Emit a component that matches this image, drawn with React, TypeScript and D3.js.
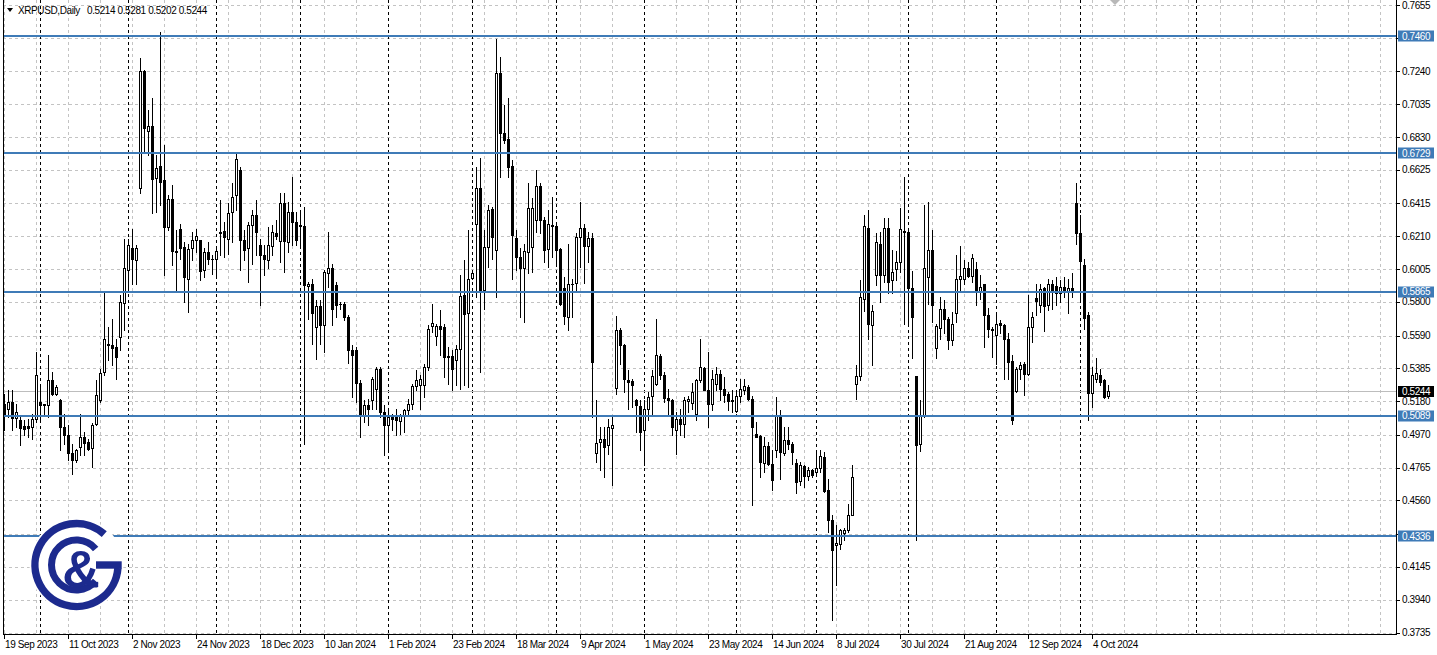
import React, { useEffect } from "react";
import * as d3 from "d3";

const SYMBOL = "XRPUSD";
const PERIOD = "Daily";
const START_DATE = "2023-09-19";
const HOLIDAYS = ["2024-01-01"];

const opens = [
  0.5165,0.5133,0.5175,0.5075,0.5060,0.5023,0.5023,0.5019,0.5071,0.5175,
  0.5156,0.5154,0.5311,0.5227,0.5185,0.5019,0.4971,0.4858,0.4810,0.4894,
  0.4956,0.4925,0.4887,0.5040,0.5185,0.5363,0.5540,0.5534,0.5519,0.5581,
  0.5796,0.5998,0.6134,0.6065,0.6509,0.7242,0.6867,0.6899,0.6575,0.6651,
  0.6561,0.6269,0.6446,0.6117,0.6255,0.6144,0.5946,0.6134,0.6184,0.6186,
  0.5998,0.6113,0.6071,0.6071,0.6228,0.6242,0.6196,0.6363,0.6467,0.6623,
  0.6186,0.6138,0.6280,0.6346,0.6155,0.6096,0.6065,0.6150,0.6228,0.6180,
  0.6415,0.6176,0.6363,0.6301,0.6280,0.6274,0.5898,0.5915,0.5644,0.5773,
  0.5655,0.5982,0.6009,0.5905,0.5790,0.5790,0.5707,0.5502,0.5502,0.5294,
  0.5092,0.5155,0.5190,0.5259,0.5384,0.5113,0.5029,0.5092,0.5082,0.5057,
  0.5092,0.5127,0.5161,0.5273,0.5280,0.5280,0.5394,0.5649,0.5586,0.5649,
  0.5644,0.5461,0.5461,0.5436,0.5509,0.5846,0.5728,0.5952,0.6290,0.6509,
  0.5873,0.6144,0.6378,0.6124,0.7228,0.6853,0.6815,0.6649,0.6197,0.6078,
  0.6015,0.6113,0.6144,0.6311,0.6524,0.6315,0.6128,0.6280,0.6274,0.6128,
  0.5884,0.5707,0.5911,0.5919,0.6207,0.6259,0.6150,0.6200,0.4856,0.4925,
  0.4946,0.4904,0.5014,0.5264,0.5627,0.5529,0.5315,0.5306,0.5189,0.5148,
  0.5002,0.5133,0.5210,0.5290,0.5460,0.5342,0.5202,0.5190,0.5002,0.5071,
  0.5035,0.5179,0.5169,0.5102,0.5315,0.5390,0.5252,0.5164,0.5285,0.5348,
  0.5258,0.5227,0.5185,0.5119,0.5210,0.5252,0.5269,0.5196,0.4973,0.4960,
  0.4793,0.4898,0.4785,0.4873,0.5092,0.4856,0.4935,0.4910,0.4794,0.4681,
  0.4773,0.4710,0.4748,0.4737,0.4764,0.4831,0.4623,0.4439,0.4279,0.4285,
  0.4356,0.4373,0.4471,0.5290,0.5338,0.5821,0.6259,0.5659,0.5967,0.6165,
  0.5971,0.6263,0.5936,0.6005,0.6047,0.6238,0.6234,0.5884,0.5338,0.4915,
  0.5096,0.5957,0.6124,0.5513,0.5638,0.5755,0.5692,0.5561,0.5728,0.5946,
  0.5946,0.6013,0.5963,0.6005,0.5859,0.5909,0.5717,0.5630,0.5596,0.5671,
  0.5655,0.5571,0.5430,0.5242,0.5380,0.5415,0.5348,0.5644,0.5826,0.5780,
  0.5884,0.5780,0.5915,0.5901,0.5853,0.5892,0.5867,0.5888,0.6415,0.6228,
  0.6030,0.5721,0.5232,0.5321,0.5346,0.5311,0.5214,
];

const highs = [
  0.5227,0.5248,0.5248,0.5165,0.5081,0.5060,0.5071,0.5102,0.5488,0.5283,
  0.5165,0.5471,0.5363,0.5279,0.5196,0.5102,0.5029,0.4915,0.4883,0.5102,
  0.4987,0.4946,0.5046,0.5311,0.5383,0.5863,0.5644,0.5696,0.5571,0.5842,
  0.6196,0.6196,0.6255,0.6155,0.7322,0.7249,0.6999,0.7072,0.6717,0.7488,
  0.6780,0.6467,0.6530,0.6248,0.6284,0.6175,0.6165,0.6238,0.6255,0.6190,
  0.6134,0.6175,0.6092,0.6134,0.6436,0.6300,0.6415,0.6540,0.6728,0.6644,
  0.6248,0.6300,0.6373,0.6436,0.6196,0.6155,0.6269,0.6280,0.6311,0.6478,
  0.6478,0.6425,0.6582,0.6363,0.6374,0.6394,0.5926,0.5946,0.5811,0.5811,
  0.5998,0.6238,0.6040,0.5926,0.5801,0.5801,0.5717,0.5530,0.5519,0.5311,
  0.5190,0.5196,0.5332,0.5394,0.5394,0.5155,0.5134,0.5102,0.5134,0.5102,
  0.5134,0.5196,0.5290,0.5373,0.5342,0.5415,0.5655,0.5790,0.5665,0.5749,
  0.5665,0.5519,0.5498,0.5530,0.5967,0.6061,0.6249,0.5988,0.6644,0.6697,
  0.6249,0.6405,0.6394,0.7441,0.7332,0.7030,0.7072,0.6686,0.6249,0.6134,
  0.6165,0.6540,0.6447,0.6624,0.6540,0.6332,0.6374,0.6457,0.6280,0.6134,
  0.5957,0.6165,0.5946,0.6228,0.6426,0.6290,0.6240,0.6230,0.5185,0.5019,
  0.5019,0.5071,0.5081,0.5710,0.5640,0.5540,0.5373,0.5321,0.5196,0.5185,
  0.5185,0.5237,0.5373,0.5696,0.5477,0.5362,0.5258,0.5196,0.5112,0.5133,
  0.5206,0.5210,0.5294,0.5321,0.5571,0.5394,0.5488,0.5373,0.5394,0.5373,
  0.5331,0.5237,0.5248,0.5248,0.5321,0.5321,0.5279,0.5210,0.5050,0.4967,
  0.4956,0.4925,0.4873,0.5206,0.5123,0.5019,0.5019,0.4925,0.4821,0.4800,
  0.4779,0.4769,0.4758,0.4877,0.4877,0.4862,0.4695,0.4466,0.4404,0.4383,
  0.4389,0.4540,0.4779,0.5405,0.5936,0.6342,0.6374,0.5784,0.6228,0.6238,
  0.6326,0.6322,0.6124,0.6117,0.6384,0.6582,0.6249,0.5992,0.5340,0.5186,
  0.6405,0.6426,0.6249,0.5665,0.5832,0.5811,0.5707,0.5738,0.6092,0.6149,
  0.6061,0.6051,0.6097,0.6051,0.5967,0.5915,0.5763,0.5644,0.5717,0.5686,
  0.5665,0.5603,0.5467,0.5394,0.5425,0.5425,0.5842,0.5738,0.5915,0.5915,
  0.5894,0.5946,0.5936,0.5957,0.5936,0.5957,0.5946,0.5978,0.6540,0.6342,
  0.6071,0.5738,0.5394,0.5450,0.5384,0.5321,0.5281,
];

const lows = [
  0.4998,0.5081,0.4998,0.5019,0.4904,0.4967,0.4956,0.4946,0.5050,0.5050,
  0.5102,0.5081,0.5217,0.5217,0.4873,0.4915,0.4810,0.4727,0.4800,0.4842,
  0.4842,0.4873,0.4769,0.5029,0.5175,0.5342,0.5436,0.5404,0.5321,0.5498,
  0.5623,0.5863,0.5915,0.5915,0.6478,0.6728,0.6717,0.6353,0.6363,0.6405,
  0.5967,0.6248,0.6030,0.5863,0.6071,0.5800,0.5738,0.6061,0.6113,0.5936,
  0.5957,0.6040,0.5977,0.5967,0.6092,0.6082,0.6102,0.6175,0.6373,0.5998,
  0.6061,0.5925,0.6040,0.6092,0.5779,0.5967,0.6009,0.6092,0.6196,0.6050,
  0.5988,0.6113,0.6155,0.6155,0.6144,0.4915,0.5696,0.5540,0.5446,0.5540,
  0.5488,0.5894,0.5655,0.5707,0.5759,0.5686,0.5419,0.5207,0.5175,0.4957,
  0.5050,0.5029,0.5134,0.5134,0.5082,0.4842,0.4884,0.4999,0.4967,0.4978,
  0.4988,0.5102,0.5134,0.5248,0.5134,0.5207,0.5373,0.5613,0.5530,0.5467,
  0.5332,0.5290,0.5248,0.5280,0.5259,0.5280,0.5269,0.5946,0.5832,0.5363,
  0.5759,0.6019,0.6071,0.5832,0.6582,0.6790,0.6582,0.5946,0.5998,0.5707,
  0.5675,0.5978,0.5988,0.6238,0.6228,0.6051,0.6019,0.6082,0.6040,0.5780,
  0.5665,0.5623,0.5707,0.5873,0.6019,0.5920,0.6050,0.5081,0.4800,0.4748,
  0.4706,0.4852,0.4654,0.5223,0.5415,0.5237,0.5133,0.5144,0.4987,0.4873,
  0.4779,0.5060,0.5102,0.5279,0.5321,0.5175,0.5092,0.4967,0.4852,0.4967,
  0.4956,0.5112,0.5133,0.5060,0.5300,0.5248,0.5019,0.5123,0.5248,0.5185,
  0.5175,0.5123,0.5112,0.5112,0.5175,0.5227,0.5185,0.4529,0.4956,0.4706,
  0.4737,0.4779,0.4627,0.4831,0.4696,0.4842,0.4883,0.4789,0.4606,0.4654,
  0.4644,0.4685,0.4706,0.4727,0.4737,0.4612,0.4362,0.3810,0.4029,0.4258,
  0.4310,0.4362,0.4467,0.5196,0.5311,0.5742,0.5571,0.5405,0.5905,0.5801,
  0.5926,0.5853,0.5853,0.5936,0.5988,0.5665,0.5665,0.5450,0.4310,0.4867,
  0.5082,0.5790,0.5676,0.5450,0.5571,0.5603,0.5509,0.5530,0.5675,0.5863,
  0.5915,0.5957,0.5926,0.5784,0.5821,0.5519,0.5582,0.5457,0.5415,0.5603,
  0.5321,0.5321,0.5040,0.5238,0.5321,0.5221,0.5342,0.5550,0.5717,0.5738,
  0.5617,0.5748,0.5759,0.5780,0.5801,0.5832,0.5728,0.5832,0.6159,0.5811,
  0.5634,0.5061,0.5144,0.5300,0.5279,0.5200,0.5202,
];

const closes = [
  0.5092,0.5175,0.5075,0.5113,0.5015,0.5008,0.5015,0.5071,0.5346,0.5158,
  0.5160,0.5311,0.5227,0.5269,0.5019,0.4971,0.4858,0.4810,0.4873,0.4956,
  0.4921,0.4883,0.5033,0.5221,0.5358,0.5571,0.5529,0.5513,0.5456,0.5800,
  0.6009,0.6155,0.6071,0.6134,0.7242,0.6884,0.6899,0.6567,0.6634,0.6551,
  0.6269,0.6446,0.6117,0.6109,0.6134,0.5957,0.6130,0.6186,0.6211,0.5994,
  0.6113,0.6071,0.6069,0.6121,0.6238,0.6207,0.6353,0.6457,0.6696,0.6186,
  0.6123,0.6280,0.6346,0.6234,0.6096,0.6071,0.6155,0.6234,0.6213,0.6415,
  0.6180,0.6363,0.6301,0.6190,0.6272,0.5905,0.5915,0.5728,0.5773,0.5655,
  0.5984,0.6009,0.5759,0.5780,0.5788,0.5703,0.5502,0.5467,0.5294,0.5092,
  0.5155,0.5134,0.5321,0.5384,0.5113,0.5029,0.5082,0.5071,0.5061,0.5092,
  0.5127,0.5161,0.5273,0.5315,0.5321,0.5394,0.5634,0.5669,0.5649,0.5634,
  0.5457,0.5453,0.5384,0.5509,0.5836,0.5723,0.5946,0.5978,0.6509,0.5873,
  0.6144,0.6374,0.6203,0.7228,0.6853,0.6811,0.6645,0.6217,0.6078,0.6015,
  0.6119,0.6384,0.6384,0.6524,0.6311,0.6124,0.6286,0.6274,0.6124,0.5790,
  0.5711,0.5911,0.5913,0.6207,0.6259,0.6150,0.6200,0.5425,0.4918,0.4946,
  0.4894,0.5019,0.5029,0.5627,0.5529,0.5321,0.5300,0.5279,0.5154,0.4987,
  0.5133,0.5206,0.5335,0.5467,0.5342,0.5202,0.5190,0.5019,0.5071,0.5035,
  0.5190,0.5196,0.5237,0.5315,0.5394,0.5252,0.5164,0.5321,0.5348,0.5258,
  0.5217,0.5181,0.5179,0.5210,0.5258,0.5273,0.5196,0.5019,0.4956,0.4800,
  0.4898,0.4785,0.4689,0.5092,0.4862,0.4939,0.4910,0.4862,0.4675,0.4779,
  0.4710,0.4748,0.4716,0.4764,0.4835,0.4618,0.4439,0.4252,0.4294,0.4373,
  0.4377,0.4471,0.4706,0.5338,0.5828,0.6274,0.5665,0.5742,0.6172,0.5967,
  0.6263,0.5926,0.5984,0.6047,0.6253,0.6245,0.5884,0.5707,0.4904,0.5096,
  0.6013,0.6124,0.5784,0.5650,0.5759,0.5692,0.5561,0.5665,0.5946,0.5963,
  0.6013,0.5963,0.6076,0.5863,0.5894,0.5717,0.5630,0.5623,0.5665,0.5659,
  0.5571,0.5425,0.5061,0.5384,0.5409,0.5348,0.5644,0.5707,0.5805,0.5880,
  0.5776,0.5915,0.5859,0.5857,0.5894,0.5863,0.5888,0.5867,0.6228,0.6055,
  0.5700,0.5232,0.5346,0.5353,0.5300,0.5207,0.5244,
];

const levelPrices = [0.746, 0.6729, 0.5865, 0.5089, 0.4336];
const gridPrices = [
  0.7655, 0.745, 0.724, 0.7035, 0.683, 0.6625, 0.6415, 0.621, 0.6005, 0.58,
  0.559, 0.5385, 0.518, 0.497, 0.4765, 0.456, 0.435, 0.4145, 0.394, 0.3735,
];
const PRICE_MIN = 0.3735;
const PRICE_MAX = 0.7655;
const TOTAL_SLOTS = 348;
const LABEL_EVERY = 16;
const GRID_EVERY = 8;
const FUTURE_SEPARATORS = 1;

const W = 1437;
const H = 655;
const LEFT = 3;
const RIGHT = 1396;
const BOTTOM = 634;
const FONT = "'Liberation Sans', Arial, sans-serif";
const LEVEL_COLOR = "#3f7bb7";
const LOGO_COLOR = "#1c2a8e";
const GRID_COLOR = "#c3c3c3";

const parseDay = d3.timeParse("%Y-%m-%d");
const fmtKey = d3.timeFormat("%Y-%m-%d");
const fmtLabel = d3.timeFormat("%-d %b %Y");

function buildDates(n: number): Date[] {
  const out: Date[] = [];
  const hol = new Set(HOLIDAYS);
  const d = parseDay(START_DATE) as Date;
  while (out.length < n) {
    const wd = d.getDay();
    if (wd !== 0 && wd !== 6 && !hol.has(fmtKey(d))) out.push(new Date(d));
    d.setDate(d.getDate() + 1);
  }
  return out;
}

function arcPath(cx: number, cy: number, r: number, a0: number, a1: number, sweep: number, large: number) {
  const rad = Math.PI / 180;
  const x0 = cx + r * Math.cos(a0 * rad);
  const y0 = cy + r * Math.sin(a0 * rad);
  const x1 = cx + r * Math.cos(a1 * rad);
  const y1 = cy + r * Math.sin(a1 * rad);
  return `M${x0},${y0} A${r},${r} 0 ${large} ${sweep} ${x1},${y1}`;
}

export default function App() {
  useEffect(() => {
    document.body.style.margin = "0";
    document.body.style.background = "#fff";
  }, []);

  const n = opens.length;
  const dates = buildDates(n);
  const allDates: Date[] = [...dates];
  const future = new Date(dates[n - 1]);
  while (allDates.length <= TOTAL_SLOTS) {
    future.setDate(future.getDate() + 1);
    allDates.push(new Date(future));
  }

  const x = d3.scaleLinear().domain([0, TOTAL_SLOTS]).range([4, RIGHT]);
  const y = d3.scaleLinear().domain([PRICE_MIN, PRICE_MAX]).range([632.5, 5]);

  const separators: number[] = [];
  let futureCount = 0;
  for (let i = 1; i < allDates.length; i++) {
    if (allDates[i].getMonth() !== allDates[i - 1].getMonth()) {
      if (i >= n) {
        if (futureCount >= FUTURE_SEPARATORS) continue;
        futureCount++;
      }
      separators.push(i);
    }
  }
  const gridCols = d3.range(0, TOTAL_SLOTS + 1, GRID_EVERY);
  const labelIdx = d3.range(0, n, LABEL_EVERY);

  const last = n - 1;
  const currentPrice = closes[last];
  const fmtP = (v: number) => v.toFixed(4);

  const levelYs = levelPrices.map((p) => y(p));
  const curY = y(currentPrice);

  const cx = 76.5;
  const cy = 565;

  return (
    <svg
      width={W}
      height={H}
      style={{ position: "absolute", left: 0, top: 0, display: "block", background: "#fff" }}
      fontFamily={FONT}
    >
      <rect x={0} y={0} width={W} height={H} fill="#fff" />

      {gridPrices.map((p, k) => (
        <line
          key={"hg" + k}
          x1={LEFT}
          x2={RIGHT}
          y1={Math.round(y(p)) + 0.5}
          y2={Math.round(y(p)) + 0.5}
          stroke={GRID_COLOR}
          strokeDasharray="3,3"
          shapeRendering="crispEdges"
        />
      ))}
      {gridCols.map((i) => (
        <line
          key={"vg" + i}
          x1={Math.round(x(i)) + 0.5}
          x2={Math.round(x(i)) + 0.5}
          y1={0}
          y2={BOTTOM}
          stroke={GRID_COLOR}
          strokeDasharray="3,3"
          shapeRendering="crispEdges"
        />
      ))}
      {separators.map((i) => (
        <line
          key={"sep" + i}
          x1={Math.round(x(i)) + 0.5}
          x2={Math.round(x(i)) + 0.5}
          y1={0}
          y2={BOTTOM}
          stroke="#000"
          strokeDasharray="3,3"
          shapeRendering="crispEdges"
        />
      ))}

      <line
        x1={LEFT}
        x2={RIGHT}
        y1={Math.round(curY) + 0.5}
        y2={Math.round(curY) + 0.5}
        stroke="#bdbdbd"
        shapeRendering="crispEdges"
      />

      <g shapeRendering="crispEdges">
        {opens.map((o, i) => {
          const c = closes[i];
          const col = Math.round(x(i));
          const yH = Math.round(y(highs[i]));
          const yL = Math.round(y(lows[i]));
          const yT = Math.round(y(Math.max(o, c)));
          const yB = Math.round(y(Math.min(o, c)));
          const bull = c >= o;
          return (
            <g key={"c" + i}>
              <rect x={col} y={yH} width={1} height={yL - yH + 1} fill="#000" />
              {bull && yB - yT >= 2 ? (
                <rect x={col - 0.5} y={yT + 0.5} width={2} height={yB - yT} fill="#fff" stroke="#000" />
              ) : (
                <rect x={col - 1} y={yT} width={3} height={Math.max(1, yB - yT + 1)} fill="#000" />
              )}
            </g>
          );
        })}
      </g>

      {levelYs.map((ly, k) => (
        <rect
          key={"lv" + k}
          x={LEFT}
          y={Math.round(ly) - 1}
          width={RIGHT - LEFT}
          height={2}
          fill={LEVEL_COLOR}
          shapeRendering="crispEdges"
        />
      ))}

      <g>
        <circle cx={cx} cy={cy} r={47} fill="#fff" />
        <path d={arcPath(cx, cy, 41.5, 4, 312, 1, 1)} fill="none" stroke={LOGO_COLOR} strokeWidth={7.5} />
        <rect x={96} y={561.3} width={cx + 45.2 - 96} height={7.4} fill={LOGO_COLOR} />
        <path d={arcPath(cx, cy, 25, -40, 40, 0, 1)} fill="none" stroke={LOGO_COLOR} strokeWidth={7} />
        <text
          x={81}
          y={587}
          textAnchor="middle"
          fontSize={52}
          fontWeight="bold"
          fill={LOGO_COLOR}
          fontFamily="'Liberation Sans', Arial, sans-serif"
        >
          &amp;
        </text>
      </g>

      <g shapeRendering="crispEdges">
        <line x1={LEFT + 0.5} x2={LEFT + 0.5} y1={0} y2={BOTTOM + 1} stroke="#000" />
        <line x1={LEFT} x2={RIGHT + 1} y1={BOTTOM + 0.5} y2={BOTTOM + 0.5} stroke="#000" />
        <line x1={RIGHT + 0.5} x2={RIGHT + 0.5} y1={0} y2={BOTTOM + 1} stroke="#000" />
      </g>

      <polygon points="1110,0 1120,0 1115,5" fill="#b8b8b8" />

      <g fontSize={10} letterSpacing={-0.4}>
        {gridPrices.map((p, k) => {
          const gy = y(p);
          const hidden = levelYs.some((ly) => Math.abs(ly - gy) < 8) || Math.abs(curY - gy) < 6;
          return (
            <g key={"yl" + k}>
              <line
                x1={RIGHT + 1}
                x2={RIGHT + 4}
                y1={Math.round(gy) + 0.5}
                y2={Math.round(gy) + 0.5}
                stroke="#000"
                shapeRendering="crispEdges"
              />
              {!hidden && (
                <text x={1402} y={gy} dominantBaseline="central" fill="#000">
                  {fmtP(p)}
                </text>
              )}
            </g>
          );
        })}
        {levelPrices.map((p, k) => (
          <g key={"ll" + k}>
            <rect x={1398} y={Math.round(y(p)) - 5.5} width={36} height={11} fill={LEVEL_COLOR} />
            <text x={1402} y={y(p)} dominantBaseline="central" fill="#fff">
              {fmtP(p)}
            </text>
          </g>
        ))}
        <rect x={1398} y={Math.round(curY) - 5} width={36} height={11} fill="#000" />
        <text x={1402} y={curY + 0.5} dominantBaseline="central" fill="#fff">
          {fmtP(currentPrice)}
        </text>
      </g>

      <g fontSize={10} letterSpacing={-0.4}>
        {labelIdx.map((i) => (
          <g key={"xl" + i}>
            <line
              x1={Math.round(x(i)) + 0.5}
              x2={Math.round(x(i)) + 0.5}
              y1={BOTTOM + 1}
              y2={BOTTOM + 5}
              stroke="#000"
              shapeRendering="crispEdges"
            />
            <text x={Math.round(x(i)) + 1} y={648} fill="#000">
              {fmtLabel(dates[i])}
            </text>
          </g>
        ))}
      </g>

      <polygon points="7,8 13,8 10,12" fill="#000" />
      <g fontSize={10} letterSpacing={-0.4} fill="#000">
        <text x={18} y={13.5}>{`${SYMBOL},${PERIOD}`}</text>
        <text x={87} y={13.5}>
          {[opens[last], highs[last], lows[last], closes[last]].map(fmtP).join(" ")}
        </text>
      </g>
    </svg>
  );
}
